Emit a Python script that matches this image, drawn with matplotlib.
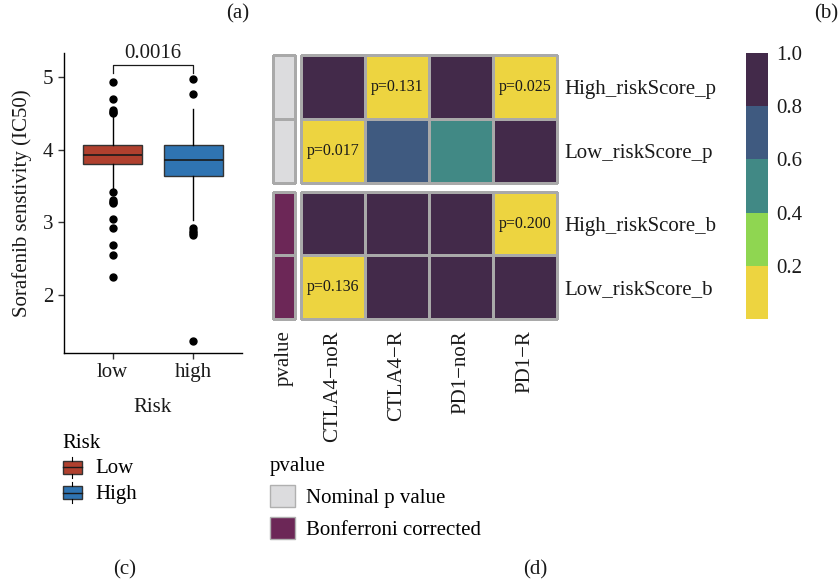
import matplotlib
matplotlib.use("Agg")
import matplotlib.pyplot as plt
import matplotlib.colors as mcolors
import matplotlib.patches as mpatches
import matplotlib.lines as mlines
from matplotlib.legend_handler import HandlerBase
import numpy as np

plt.rcParams['font.family'] = ['Liberation Serif', 'DejaVu Serif']

W, H = 839, 584

# ---- boxplot data ----
groups = ['low', 'high']
legend_names = ['Low', 'High']
box_colors = ['#B0402E', '#2F74B2']
q1 = [3.80, 3.64]
med = [3.93, 3.86]
q3 = [4.06, 4.06]
whislo = [3.45, 3.03]
whishi = [4.45, 4.56]
fliers = [
    [4.93, 4.69, 4.55, 4.52, 4.50, 3.42, 3.30, 3.28, 3.26, 3.05, 2.92, 2.69, 2.55, 2.25],
    [4.97, 4.77, 2.92, 2.88, 2.85, 2.83, 1.37],
]
p_text = '0.0016'
ylab = 'Sorafenib senstivity (IC50)'

# ---- heatmap data ----
col_names = ['CTLA4\u2212noR', 'CTLA4\u2212R', 'PD1\u2212noR', 'PD1\u2212R']
rows_nominal = ['High_riskScore_p', 'Low_riskScore_p']
rows_bonf = ['High_riskScore_b', 'Low_riskScore_b']
nominal = np.array([[0.95, 0.131, 0.95, 0.025],
                    [0.017, 0.72, 0.52, 0.95]])
bonf = np.array([[1.0, 1.0, 1.0, 0.200],
                 [0.136, 1.0, 1.0, 1.0]])
bounds = [0, 0.2, 0.4, 0.6, 0.8, 1.0]
band_colors = ['#EDD440', '#8FD651', '#418985', '#3F5A80', '#432A4A']
pv_names = ['Nominal p value', 'Bonferroni corrected']
pv_colors = ['#DCDCDE', '#6C2757']


def box(x0, y0, x1, y1):
    return [x0 / W, 1 - y1 / H, (x1 - x0) / W, (y1 - y0) / H]


fig = plt.figure(figsize=(W / 100, H / 100), dpi=100)
txt = '#1a1a1a'
fs = 15

# ---------------- (c) boxplot ----------------
ax = fig.add_axes(box(64, 53, 242, 353))
stats = []
for i in range(2):
    stats.append(dict(med=med[i], q1=q1[i], q3=q3[i], whislo=whislo[i],
                      whishi=whishi[i], fliers=fliers[i], label=groups[i]))
bp = ax.bxp(stats, positions=[1, 2], widths=0.72, patch_artist=True,
            showcaps=False,
            boxprops=dict(edgecolor='#333333', linewidth=1.0),
            medianprops=dict(color='#1a1a1a', linewidth=1.2),
            whiskerprops=dict(color='black', linewidth=1.0),
            flierprops=dict(marker='o', markerfacecolor='black',
                            markeredgecolor='black', markersize=5))
for patch, c in zip(bp['boxes'], box_colors):
    patch.set_facecolor(c)
ax.set_xlim(0.4, 2.6)
ax.set_ylim(1.2, 5.33)
ax.set_yticks([2, 3, 4, 5])
ax.set_xticks([1, 2])
ax.set_xticklabels(groups)
for s in ['top', 'right']:
    ax.spines[s].set_visible(False)
for s in ['left', 'bottom']:
    ax.spines[s].set_linewidth(1.0)
ax.tick_params(labelsize=fs, colors='#333333', labelcolor=txt, length=4, width=1)
ax.set_xlabel('Risk', fontsize=fs, color=txt, labelpad=11)
ax.set_ylabel(ylab, fontsize=fs, color=txt, labelpad=8)
ax.plot([1, 1, 2, 2], [5.05, 5.16, 5.16, 5.05], color='#1a1a1a', lw=0.9,
        clip_on=False)
ax.text(1.5, 5.19, p_text, ha='center', va='bottom', fontsize=fs, color=txt)


class HandlerBox(HandlerBase):
    def create_artists(self, legend, orig, xd, yd, width, height, fontsize, trans):
        cx = xd + width / 2
        h = height
        y0 = yd + (height - h) / 2
        bw = width * 0.9
        r = mpatches.Rectangle((cx - bw / 2, y0), bw, h,
                               facecolor=orig.get_facecolor(),
                               edgecolor='#333333', lw=1.0, transform=trans)
        m = mlines.Line2D([cx - bw / 2, cx + bw / 2], [y0 + h / 2] * 2,
                          color='#1a1a1a', lw=1.0, transform=trans)
        w1 = mlines.Line2D([cx, cx], [y0 + h, y0 + h + 3], color='black',
                           lw=0.8, transform=trans)
        w2 = mlines.Line2D([cx, cx], [y0 - 3, y0], color='black',
                           lw=0.8, transform=trans)
        return [r, m, w1, w2]


handles = [mpatches.Patch(facecolor=c, label=n) for c, n in zip(box_colors, legend_names)]
leg = fig.legend(handles=handles, loc='upper left', bbox_to_anchor=(62 / W, 1 - 434 / H),
                 title='Risk', fontsize=fs, title_fontsize=fs, frameon=False,
                 handler_map={mpatches.Patch: HandlerBox()},
                 handlelength=1.0, handleheight=0.6, handletextpad=0.6,
                 labelspacing=0.3, borderaxespad=0, borderpad=0)
leg._legend_box.align = 'left'

# ---------------- (d) heatmap ----------------
cmap = mcolors.ListedColormap(band_colors)
norm = mcolors.BoundaryNorm(bounds, cmap.N)
pv_cmap = mcolors.ListedColormap(pv_colors)
edge = '#A9A9A9'

groups_hm = [(nominal, rows_nominal, 0, (55, 182.7)),
             (bonf, rows_bonf, 1, (191.7, 319.3))]
for k, (vals, rnames, pv_idx, (ya, yb)) in enumerate(groups_hm):
    axh = fig.add_axes(box(300.7, ya, 557.3, yb))
    # bands closed on the right, so p = 0.200 lands in the lowest band
    band = np.digitize(vals, bounds[1:-1], right=True)
    mesh = axh.pcolormesh(band, cmap=cmap, vmin=-0.5, vmax=len(band_colors) - 0.5,
                          edgecolors=edge, linewidth=1.0)
    mesh.set_clip_on(False)
    axh.set_xlim(0, vals.shape[1])
    axh.set_ylim(vals.shape[0], 0)
    for i in range(vals.shape[0]):
        for j in range(vals.shape[1]):
            if vals[i, j] <= 0.2:
                axh.text(j + 0.5, i + 0.5, 'p=%.3f' % vals[i, j], ha='center',
                         va='center', fontsize=11.5, color=txt)
    for s in axh.spines.values():
        s.set_visible(False)
    axh.yaxis.tick_right()
    axh.set_yticks(np.arange(len(rnames)) + 0.5)
    axh.set_yticklabels(rnames, fontsize=fs, color=txt)
    axh.tick_params(axis='y', length=0, pad=5)
    if k == 1:
        axh.set_xticks(np.arange(len(col_names)) + 0.5)
        axh.set_xticklabels(col_names, rotation=90, fontsize=fs, color=txt)
        axh.tick_params(axis='x', length=0, pad=8)
    else:
        axh.set_xticks([])

    axa = fig.add_axes(box(273.3, ya, 295, yb))
    ann = np.full((vals.shape[0], 1), pv_idx)
    m2 = axa.pcolormesh(ann, cmap=pv_cmap, vmin=-0.5, vmax=1.5, edgecolors=edge,
                        linewidth=1.0)
    m2.set_clip_on(False)
    axa.set_ylim(vals.shape[0], 0)
    axa.set_yticks([])
    for s in axa.spines.values():
        s.set_visible(False)
    if k == 1:
        axa.set_xticks([0.5])
        axa.set_xticklabels(['pvalue'], rotation=90, fontsize=fs, color=txt)
        axa.tick_params(axis='x', length=0, pad=8)
    else:
        axa.set_xticks([])

# colorbar
cax = fig.add_axes(box(745.7, 52.7, 767.7, 319.3))
cb = matplotlib.colorbar.ColorbarBase(cax, cmap=cmap, norm=norm, boundaries=bounds,
                                      ticks=[0.2, 0.4, 0.6, 0.8, 1.0])
cb.set_ticklabels(['0.2', '0.4', '0.6', '0.8', '1.0'])
cb.outline.set_visible(False)
cax.minorticks_off()
cax.tick_params(which='both', length=0, labelsize=fs, labelcolor=txt, pad=6)

# pvalue legend
pv_handles = [mpatches.Patch(facecolor=pv_colors[0], edgecolor='#B0B0B0', label=pv_names[0]),
              mpatches.Patch(facecolor=pv_colors[1], edgecolor='#B0B0B0', label=pv_names[1])]
leg2 = fig.legend(handles=pv_handles, loc='upper left',
                  bbox_to_anchor=(270 / W, 1 - 457 / H), title='pvalue',
                  fontsize=fs, title_fontsize=fs, frameon=False,
                  handlelength=1.2, handleheight=1.2, handletextpad=0.55,
                  labelspacing=0.45, borderaxespad=0, borderpad=0)
leg2._legend_box.align = 'left'

# panel labels
for lab, x, y in [('(a)', 238, 14), ('(b)', 826, 14), ('(c)', 125, 570), ('(d)', 535, 570)]:
    fig.text(x / W, 1 - y / H, lab, ha='center', va='center', fontsize=fs, color=txt)

fig.savefig('out.png', dpi=100)
